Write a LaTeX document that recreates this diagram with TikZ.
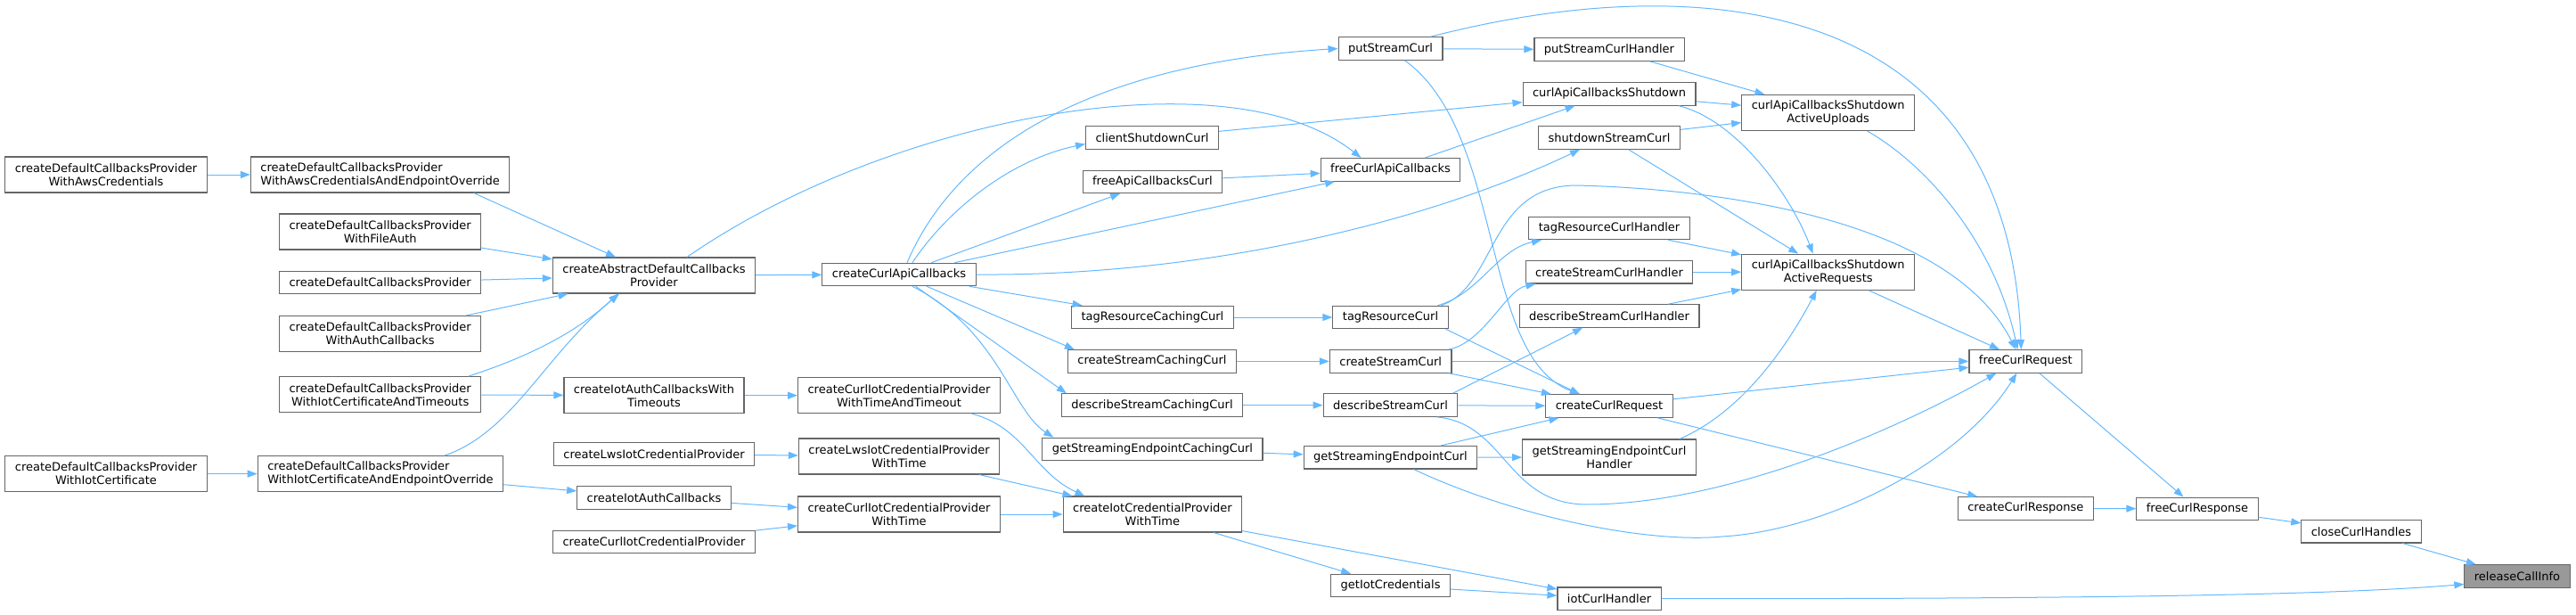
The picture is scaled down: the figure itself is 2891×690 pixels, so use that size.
\documentclass[tikz,border=0pt]{standalone}
\usepackage{fontspec}
\setmainfont{DejaVu Sans}
\usepackage{xcolor}
\usepackage{tikz}
\usetikzlibrary{arrows.meta}

\definecolor{edgeblue}{HTML}{63B8FF}
\definecolor{boxgray}{HTML}{666666}
\definecolor{rootfill}{HTML}{999999}

\begin{document}
\begin{tikzpicture}[
    x=1pt, y=-1pt,
    func/.style={draw=boxgray, line width=1.1pt, fill=white, inner xsep=11pt, inner ysep=0pt,
                 minimum height=25.5pt, align=center, font=\fontsize{13}{15}\selectfont},
    twoline/.style={func, minimum height=40pt},
    focus/.style={func, fill=rootfill},
    call/.style={->, draw=edgeblue, line width=1pt},
    >={Triangle[length=11pt,width=8pt]}
]
\useasboundingbox (0,0) rectangle (2891,690);

\node[twoline] (dcpAws) at (119,196) {createDefaultCallbacksProvider\\WithAwsCredentials};
\node[twoline, align=left] (dcpAwsEp) at (426.7,196) {createDefaultCallbacksProvider\\WithAwsCredentialsAndEndpointOverride};
\node[twoline] (dcpFile) at (426.7,260) {createDefaultCallbacksProvider\\WithFileAuth};
\node[func] (dcp) at (426.7,317) {createDefaultCallbacksProvider};
\node[twoline] (dcpAuth) at (426.7,374.5) {createDefaultCallbacksProvider\\WithAuthCallbacks};
\node[twoline] (dcpIotTo) at (426.7,442.7) {createDefaultCallbacksProvider\\WithIotCertificateAndTimeouts};
\node[twoline] (dcpIot) at (119,531.6) {createDefaultCallbacksProvider\\WithIotCertificate};
\node[twoline, align=left] (dcpIotEp) at (427,531.6) {createDefaultCallbacksProvider\\WithIotCertificateAndEndpointOverride};

\node[twoline] (absDcp) at (734,309) {createAbstractDefaultCallbacks\\Provider};
\node[twoline] (iotAuthTo) at (734,443.7) {createIotAuthCallbacksWith\\Timeouts};
\node[func] (lwsIot) at (734,509.5) {createLwsIotCredentialProvider};
\node[func] (iotAuth) at (734,558.5) {createIotAuthCallbacks};
\node[func] (curlIot) at (734,608) {createCurlIotCredentialProvider};

\node[func] (curlApiCb) at (1009,308) {createCurlApiCallbacks};
\node[twoline] (curlIotTT) at (1009,443.7) {createCurlIotCredentialProvider\\WithTimeAndTimeout};
\node[twoline] (lwsIotT) at (1009,512) {createLwsIotCredentialProvider\\WithTime};
\node[twoline] (curlIotT) at (1009,577) {createCurlIotCredentialProvider\\WithTime};

\node[func] (clientShut) at (1293,154.5) {clientShutdownCurl};
\node[func] (freeApiCb) at (1293.4,203.8) {freeApiCallbacksCurl};
\node[func] (tagCaching) at (1293.4,356) {tagResourceCachingCurl};
\node[func] (createCaching) at (1293,405.4) {createStreamCachingCurl};
\node[func] (describeCaching) at (1293,454.6) {describeStreamCachingCurl};
\node[func] (endpointCaching) at (1293.4,504) {getStreamingEndpointCachingCurl};
\node[twoline] (iotCredT) at (1293.4,577) {createIotCredentialProvider\\WithTime};

\node[func] (putStream) at (1560.5,54.5) {putStreamCurl};
\node[func] (freeCurlApiCb) at (1560.5,190.4) {freeCurlApiCallbacks};
\node[func] (tagRes) at (1560.5,356) {tagResourceCurl};
\node[func] (createStream) at (1560.7,405.4) {createStreamCurl};
\node[func] (describeStream) at (1560.5,454.6) {describeStreamCurl};
\node[func] (endpoint) at (1560.5,513.2) {getStreamingEndpointCurl};
\node[func] (iotCreds) at (1560.6,657) {getIotCredentials};

\node[func] (putHandler) at (1806,55.7) {putStreamCurlHandler};
\node[func] (apiShutdown) at (1806,105.4) {curlApiCallbacksShutdown};
\node[func] (shutdownStream) at (1806,154.5) {shutdownStreamCurl};
\node[func] (tagHandler) at (1806,256) {tagResourceCurlHandler};
\node[func] (createHandler) at (1806,305.2) {createStreamCurlHandler};
\node[func] (describeHandler) at (1806,354.5) {describeStreamCurlHandler};
\node[func] (curlReq) at (1806,455.5) {createCurlRequest};
\node[twoline] (endpointHandler) at (1806,513) {getStreamingEndpointCurl\\Handler};
\node[func] (iotHandler) at (1806,671.7) {iotCurlHandler};

\node[twoline] (activeUp) at (2051.7,126.5) {curlApiCallbacksShutdown\\ActiveUploads};
\node[twoline] (activeReq) at (2051.7,305.2) {curlApiCallbacksShutdown\\ActiveRequests};
\node[func] (freeReq) at (2273.3,405.4) {freeCurlRequest};
\node[func] (curlResp) at (2273.3,570.4) {createCurlResponse};
\node[func] (freeResp) at (2466,570.8) {freeCurlResponse};
\node[func] (closeHandles) at (2650,596.2) {closeCurlHandles};
\node[focus] (release) at (2825,646.5) {releaseCallInfo};

\draw[call] (dcpAws) -- (dcpAwsEp);
\draw[call] ([xshift=105pt]dcpAwsEp.south) -- ([xshift=-43pt]absDcp.north);
\draw[call] (dcpFile) -- (absDcp);
\draw[call] (dcp) -- (absDcp);
\draw[call] (dcpAuth) -- (absDcp);
\draw[call] ([xshift=99pt]dcpIotTo.north) .. controls (600,398) and (650,370) .. ([xshift=-40pt]absDcp.south);
\draw[call] (dcpIotTo) -- (iotAuthTo);
\draw[call] (dcpIot) -- (dcpIotEp);
\draw[call] ([xshift=72pt]dcpIotEp.north) .. controls (575,485) and (610,400) .. ([xshift=-39pt]absDcp.south);
\draw[call] (dcpIotEp) -- (iotAuth);

\draw[call] (absDcp) -- (curlApiCb);
\draw[call] ([xshift=37pt]absDcp.north) .. controls (1000,130) and (1380,60) .. ([xshift=-33pt]freeCurlApiCb.north);
\draw[call] (iotAuthTo) -- (curlIotTT);
\draw[call] (lwsIot) -- (lwsIotT);
\draw[call] (iotAuth) -- (curlIotT);
\draw[call] (curlIot) -- (curlIotT);

\draw[call] ([xshift=82pt]curlIotTT.south) .. controls (1150,480) and (1160,530) .. ([xshift=-76pt]iotCredT.north);
\draw[call] (lwsIotT) -- (iotCredT);
\draw[call] (curlIotT) -- (iotCredT);

\draw[call] ([xshift=9pt]curlApiCb.north) .. controls (1080,150) and (1250,70) .. (putStream.west);
\draw[call] ([xshift=15pt]curlApiCb.north) .. controls (1060,240) and (1130,180) .. ([yshift=-7pt]clientShut.west);
\draw[call] (curlApiCb) -- (freeApiCb);
\draw[call] (curlApiCb) -- (freeCurlApiCb);
\draw[call] (curlApiCb.east) .. controls (1350,310) and (1600,250) .. ([xshift=-33pt]shutdownStream.south);
\draw[call] (curlApiCb) -- (tagCaching);
\draw[call] (curlApiCb) -- ([xshift=8pt]createCaching.north west);
\draw[call] (curlApiCb) -- ([xshift=6pt]describeCaching.north west);
\draw[call] ([xshift=15pt]curlApiCb.south) .. controls (1120,370) and (1135,460) .. ([xshift=13pt]endpointCaching.north west);

\draw[call] (clientShut) -- (apiShutdown);
\draw[call] (freeApiCb) -- (freeCurlApiCb);
\draw[call] (tagCaching) -- (tagRes);
\draw[call] (createCaching) -- (createStream);
\draw[call] (describeCaching) -- (describeStream);
\draw[call] (endpointCaching) -- (endpoint);
\draw[call] (iotCredT) -- (iotCreds);
\draw[call] (iotCredT) -- (iotHandler);

\draw[call] (putStream) -- (putHandler);
\draw[call] ([xshift=45pt]putStream.north) .. controls (1900,-35) and (2255,-10) .. ([xshift=-5pt]freeReq.north);
\draw[call] ([xshift=16pt]putStream.south) .. controls (1690,150) and (1660,400) .. ([xshift=-33pt]curlReq.north);
\draw[call] (freeCurlApiCb) -- (apiShutdown);
\draw[call] ([xshift=53pt]tagRes.north) .. controls (1660,330) and (1680,280) .. ([xshift=-76pt]tagHandler.south);
\draw[call] ([xshift=57pt]tagRes.north) .. controls (1680,320) and (1670,210) .. (1767,208)
    .. controls (1870,210) and (2180,230) .. ([xshift=-11pt]freeReq.north);
\draw[call] ([xshift=-3pt]tagRes.south east) -- ([xshift=-33pt]curlReq.north);
\draw[call] ([xshift=-4pt]createStream.north east) .. controls (1665,385) and (1690,325) .. ([xshift=12pt]createHandler.south west);
\draw[call] (createStream) -- (freeReq);
\draw[call] (createStream) -- (curlReq);
\draw[call] ([xshift=-6pt]describeStream.north east) -- ([xshift=-30pt]describeHandler.south);
\draw[call] (describeStream) -- (curlReq);
\draw[call] ([xshift=52pt]describeStream.south) .. controls (1690,475) and (1690,565) .. (1780,566)
    .. controls (1950,566) and (2150,470) .. ([xshift=-33pt]freeReq.south);
\draw[call] (endpoint) -- (endpointHandler);
\draw[call] (endpoint) -- (curlReq);
\draw[call] ([xshift=26pt]endpoint.south) .. controls (1700,580) and (1850,610) .. (1933,602)
    .. controls (2050,595) and (2200,520) .. ([xshift=-10pt]freeReq.south);
\draw[call] (iotCreds) -- (iotHandler);

\draw[call] (putHandler) -- (activeUp);
\draw[call] (apiShutdown) -- (activeUp);
\draw[call] ([xshift=78pt]apiShutdown.south) .. controls (1950,135) and (2010,220) .. ([xshift=-17pt]activeReq.north);
\draw[call] (shutdownStream) -- (activeUp);
\draw[call] (shutdownStream) -- (activeReq);
\draw[call] (tagHandler) -- (activeReq);
\draw[call] (createHandler) -- (activeReq);
\draw[call] (describeHandler) -- (activeReq);
\draw[call] ([xshift=79pt]endpointHandler.north) .. controls (1960,460) and (2010,380) .. ([xshift=-13pt]activeReq.south);
\draw[call] (curlReq) -- (freeReq);
\draw[call] (curlReq) -- (curlResp);
\draw[call] (iotHandler) .. controls (2450,672) and (2650,665) .. ([yshift=-9pt]release.west);

\draw[call] ([xshift=44pt]activeUp.south) .. controls (2170,190) and (2240,280) .. ([xshift=-9pt]freeReq.north);
\draw[call] (activeReq) -- (freeReq);
\draw[call] (freeReq) -- (freeResp);
\draw[call] (curlResp) -- (freeResp);
\draw[call] (freeResp) -- (closeHandles);
\draw[call] (closeHandles) -- (release);
\end{tikzpicture}
\end{document}
